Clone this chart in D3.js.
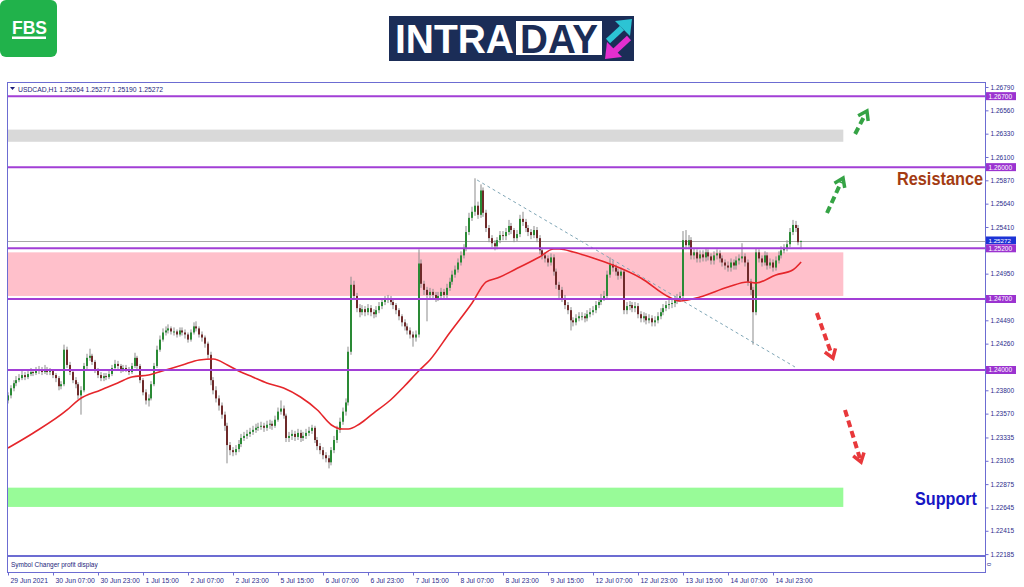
<!DOCTYPE html>
<html><head><meta charset="utf-8">
<script src="https://cdn.jsdelivr.net/npm/d3@7"></script>
<style>
html,body{margin:0;padding:0;background:#fff;}
svg{display:block;}
text{font-family:"Liberation Sans","DejaVu Sans",sans-serif;}
</style></head><body>
<svg id="c" width="1024" height="587"></svg>
<script>
// ---------------- DATA ----------------
const symbol = "USDCAD,H1";
const lastOHLC = [1.25264, 1.25277, 1.25190, 1.25272];
const firstOpen = 1.2370;
const closes = [
1.2375,1.2382,1.2387,1.2390,1.2392,1.2395,1.2393,1.2396,1.2398,1.2397,
1.2399,1.2400,1.2398,1.2401,1.2398,1.2399,1.2395,1.2392,1.2384,1.2386,
1.2420,1.2405,1.2398,1.2390,1.2386,1.2375,1.2380,1.2404,1.2412,1.2414,
1.2408,1.2400,1.2395,1.2392,1.2394,1.2393,1.2396,1.2402,1.2406,1.2404,
1.2400,1.2402,1.2401,1.2398,1.2404,1.2412,1.2404,1.2390,1.2378,1.2370,
1.2372,1.2386,1.2404,1.2420,1.2430,1.2437,1.2439,1.2441,1.2438,1.2438,
1.2435,1.2439,1.2437,1.2435,1.2430,1.2437,1.2443,1.2441,1.2435,1.2432,
1.2426,1.2415,1.2390,1.2380,1.2372,1.2365,1.2356,1.2345,1.2326,1.2321,
1.2319,1.2322,1.2327,1.2333,1.2335,1.2337,1.2339,1.2341,1.2343,1.2344,
1.2345,1.2343,1.2346,1.2347,1.2345,1.2351,1.2359,1.2362,1.2355,1.2333,
1.2335,1.2337,1.2334,1.2338,1.2333,1.2335,1.2338,1.2340,1.2343,1.2331,
1.2325,1.2321,1.2316,1.2313,1.2309,1.2321,1.2331,1.2341,1.2349,1.2359,
1.2368,1.2418,1.2484,1.2473,1.2461,1.2457,1.2460,1.2457,1.2461,1.2457,
1.2455,1.2459,1.2463,1.2467,1.2469,1.2470,1.2467,1.2464,1.2459,1.2453,
1.2447,1.2443,1.2439,1.2435,1.2432,1.2435,1.2505,1.2485,1.2479,1.2474,
1.2477,1.2474,1.2471,1.2473,1.2477,1.2474,1.2481,1.2487,1.2494,1.2499,
1.2506,1.2513,1.2520,1.2536,1.2550,1.2556,1.2562,1.2553,1.2577,1.2555,
1.2540,1.2530,1.2525,1.2522,1.2528,1.2533,1.2532,1.2536,1.2542,1.2538,
1.2530,1.2534,1.2549,1.2546,1.2540,1.2536,1.2533,1.2538,1.2530,1.2518,
1.2513,1.2510,1.2506,1.2511,1.2497,1.2484,1.2479,1.2471,1.2464,1.2459,
1.2449,1.2447,1.2451,1.2453,1.2453,1.2451,1.2455,1.2457,1.2459,1.2464,
1.2467,1.2471,1.2473,1.2494,1.2504,1.2501,1.2497,1.2493,1.2497,1.2459,
1.2463,1.2464,1.2461,1.2463,1.2455,1.2451,1.2453,1.2449,1.2451,1.2447,
1.2449,1.2453,1.2457,1.2461,1.2464,1.2465,1.2466,1.2469,1.2471,1.2473,
1.2528,1.2523,1.2528,1.2513,1.2516,1.2510,1.2514,1.2511,1.2516,1.2512,
1.2508,1.2513,1.2515,1.2510,1.2506,1.2503,1.2501,1.2506,1.2503,1.2508,
1.2510,1.2512,1.2506,1.2487,1.2479,1.2457,1.2516,1.2510,1.2506,1.2513,
1.2503,1.2506,1.2501,1.2508,1.2513,1.2518,1.2520,1.2524,1.2536,1.2543,
1.2540,1.2526,1.25272];
const highs = [
1.2378,1.2385,1.2390,1.2394,1.2396,1.2399,1.2398,1.2400,1.2402,1.2401,
1.2403,1.2404,1.2403,1.2405,1.2403,1.2402,1.2401,1.2397,1.2394,1.2389,
1.2425,1.2423,1.2408,1.2400,1.2393,1.2388,1.2384,1.2407,1.2416,1.2421,
1.2416,1.2410,1.2402,1.2398,1.2397,1.2397,1.2399,1.2405,1.2410,1.2409,
1.2406,1.2405,1.2405,1.2403,1.2407,1.2417,1.2414,1.2406,1.2392,1.2381,
1.2376,1.2389,1.2407,1.2424,1.2434,1.2441,1.2443,1.2445,1.2443,1.2442,
1.2440,1.2442,1.2442,1.2440,1.2437,1.2440,1.2447,1.2448,1.2443,1.2438,
1.2434,1.2428,1.2418,1.2393,1.2384,1.2375,1.2368,1.2359,1.2348,1.2329,
1.2324,1.2326,1.2331,1.2337,1.2339,1.2341,1.2343,1.2345,1.2347,1.2348,
1.2349,1.2348,1.2350,1.2351,1.2350,1.2355,1.2363,1.2370,1.2365,1.2357,
1.2339,1.2341,1.2340,1.2342,1.2341,1.2339,1.2342,1.2344,1.2346,1.2345,
1.2334,1.2328,1.2324,1.2319,1.2316,1.2324,1.2335,1.2345,1.2353,1.2363,
1.2372,1.2423,1.2492,1.2488,1.2476,1.2465,1.2464,1.2463,1.2465,1.2464,
1.2460,1.2463,1.2467,1.2471,1.2473,1.2474,1.2473,1.2470,1.2466,1.2461,
1.2455,1.2450,1.2446,1.2442,1.2438,1.2439,1.2519,1.2509,1.2488,1.2482,
1.2481,1.2480,1.2477,1.2477,1.2481,1.2480,1.2485,1.2491,1.2498,1.2503,
1.2510,1.2517,1.2524,1.2542,1.2555,1.2561,1.2589,1.2566,1.2583,1.2580,
1.2558,1.2543,1.2533,1.2528,1.2531,1.2537,1.2537,1.2540,1.2548,1.2545,
1.2540,1.2538,1.2553,1.2556,1.2549,1.2543,1.2539,1.2542,1.2541,1.2533,
1.2521,1.2516,1.2513,1.2515,1.2514,1.2500,1.2487,1.2482,1.2474,1.2467,
1.2462,1.2452,1.2455,1.2457,1.2457,1.2456,1.2459,1.2461,1.2463,1.2468,
1.2471,1.2475,1.2478,1.2498,1.2511,1.2508,1.2504,1.2500,1.2501,1.2499,
1.2467,1.2468,1.2467,1.2467,1.2466,1.2458,1.2457,1.2456,1.2455,1.2454,
1.2453,1.2457,1.2461,1.2465,1.2468,1.2469,1.2470,1.2473,1.2475,1.2477,
1.2537,1.2538,1.2533,1.2531,1.2520,1.2519,1.2518,1.2518,1.2520,1.2519,
1.2515,1.2517,1.2519,1.2518,1.2513,1.2509,1.2507,1.2510,1.2509,1.2512,
1.2514,1.2525,1.2515,1.2509,1.2490,1.2482,1.2520,1.2519,1.2513,1.2517,
1.2516,1.2510,1.2509,1.2512,1.2517,1.2522,1.2524,1.2528,1.2540,1.2548,
1.2547,1.2543,1.25277];
const lows = [
1.2367,1.2372,1.2379,1.2384,1.2388,1.2390,1.2390,1.2391,1.2394,1.2394,
1.2395,1.2396,1.2395,1.2396,1.2395,1.2395,1.2392,1.2388,1.2380,1.2381,
1.2384,1.2402,1.2395,1.2387,1.2382,1.2371,1.2356,1.2378,1.2401,1.2409,
1.2405,1.2397,1.2392,1.2389,1.2389,1.2390,1.2391,1.2394,1.2400,1.2401,
1.2397,1.2398,1.2398,1.2395,1.2396,1.2402,1.2401,1.2387,1.2375,1.2366,
1.2364,1.2370,1.2384,1.2402,1.2418,1.2428,1.2434,1.2436,1.2435,1.2434,
1.2432,1.2433,1.2434,1.2431,1.2427,1.2428,1.2435,1.2438,1.2432,1.2428,
1.2422,1.2411,1.2385,1.2376,1.2368,1.2360,1.2352,1.2340,1.2308,1.2316,
1.2315,1.2316,1.2319,1.2324,1.2330,1.2332,1.2334,1.2336,1.2338,1.2340,
1.2341,1.2339,1.2340,1.2342,1.2341,1.2343,1.2349,1.2356,1.2352,1.2329,
1.2329,1.2331,1.2330,1.2331,1.2329,1.2330,1.2332,1.2335,1.2337,1.2328,
1.2321,1.2317,1.2312,1.2309,1.2303,1.2306,1.2318,1.2328,1.2338,1.2346,
1.2355,1.2365,1.2415,1.2469,1.2457,1.2452,1.2454,1.2453,1.2454,1.2453,
1.2451,1.2452,1.2456,1.2460,1.2464,1.2466,1.2464,1.2460,1.2455,1.2449,
1.2443,1.2439,1.2435,1.2431,1.2423,1.2428,1.2432,1.2481,1.2474,1.2448,
1.2470,1.2470,1.2467,1.2468,1.2470,1.2470,1.2471,1.2478,1.2484,1.2491,
1.2496,1.2503,1.2510,1.2517,1.2533,1.2547,1.2552,1.2549,1.2550,1.2551,
1.2536,1.2526,1.2521,1.2518,1.2519,1.2525,1.2528,1.2528,1.2533,1.2534,
1.2526,1.2527,1.2531,1.2542,1.2536,1.2532,1.2529,1.2530,1.2526,1.2514,
1.2509,1.2506,1.2502,1.2503,1.2493,1.2480,1.2469,1.2467,1.2460,1.2455,
1.2439,1.2443,1.2444,1.2448,1.2449,1.2447,1.2448,1.2452,1.2454,1.2456,
1.2461,1.2464,1.2468,1.2470,1.2491,1.2497,1.2493,1.2489,1.2490,1.2455,
1.2455,1.2459,1.2457,1.2457,1.2451,1.2447,1.2447,1.2445,1.2446,1.2443,
1.2443,1.2446,1.2450,1.2454,1.2458,1.2460,1.2461,1.2462,1.2465,1.2467,
1.2470,1.2519,1.2519,1.2509,1.2509,1.2506,1.2506,1.2507,1.2507,1.2508,
1.2504,1.2504,1.2509,1.2506,1.2502,1.2499,1.2497,1.2497,1.2499,1.2499,
1.2504,1.2506,1.2502,1.2483,1.2474,1.2425,1.2454,1.2506,1.2502,1.2503,
1.2499,1.2500,1.2497,1.2498,1.2505,1.2510,1.2515,1.2517,1.2521,1.2533,
1.2536,1.2523,1.2519];

// moving average (read at sample bars)
const maIndex  = [0,9,21,25,33,39,44,50,56,62,68,73,78,82,87,92,98,104,110,115,119,121,125,130,136,141,146,150,157,165,170,174,182,189,194,196,201,208,215,225,235,239,246,256,263,266,273,279,282];
const maValues = [1.23231,1.23379,1.23606,1.23704,1.23803,1.23872,1.23931,1.23951,1.24000,1.24049,1.24099,1.24108,1.24049,1.23990,1.23931,1.23872,1.23823,1.23734,1.23606,1.23458,1.23418,1.23418,1.23468,1.23576,1.23704,1.23842,1.23990,1.24099,1.24365,1.24661,1.24868,1.24907,1.25015,1.25114,1.25193,1.25193,1.25163,1.25104,1.25035,1.24907,1.24720,1.24680,1.24720,1.24818,1.24868,1.24858,1.24937,1.24986,1.25065];

const timeTickIndex = [0,16,32,48,64,80,96,112,128,144,160,176,192,208,224,240,256,272];
const timeLabels = ["29 Jun 2021","30 Jun 07:00","30 Jun 23:00","1 Jul 15:00","2 Jul 07:00","2 Jul 23:00","5 Jul 15:00","6 Jul 07:00","6 Jul 23:00","7 Jul 15:00","8 Jul 07:00","8 Jul 23:00","9 Jul 15:00","12 Jul 07:00","12 Jul 23:00","13 Jul 15:00","14 Jul 07:00","14 Jul 23:00"];
const priceTicks = [1.26790,1.26560,1.26330,1.26100,1.25870,1.25640,1.25410,1.25180,1.24950,1.24720,1.24490,1.24260,1.24030,1.23800,1.23570,1.23335,1.23105,1.22875,1.22645,1.22415,1.22185];
const levels = [1.26700,1.26000,1.25200,1.24700,1.24000];
const currentPrice = 1.25272;

// rectangles [topPrice, bottomPrice], running from first bar to bar zoneEnd
const zoneNames  = ["target","range","support"];
const zoneTop    = [1.2637,1.2516,1.2284];
const zoneBottom = [1.2625,1.2473,1.2265];
const zoneEnd = 297;

// trend line [bar, price]
const trendFrom = [166.8, 1.25873];
const trendTo   = [279.8, 1.24030];

// scenario arrows [bar0, price0, bar1, price1]
const arrowsUp   = [[291.2,1.25548,296.9,1.25893],[301.2,1.26327,305.4,1.26553]];
const arrowsDown = [[287.6,1.24562,293.3,1.24118],[297.6,1.23606,303.3,1.23093]];

// ---------------- DRAW ----------------
const svg = d3.select("#c");
const L = 7.5, R = 985.5, T = 82.5, B = 556, SUBB = 572.5;
const x = d3.scaleLinear().domain([0,16]).range([8,53]);
const y = d3.scaleLinear().domain([1.221564,1.268394]).range([557,82]);

const opens = closes.map((c,i)=> i===0 ? firstOpen : closes[i-1]);
opens[opens.length-1] = lastOHLC[0];

// zones
const zg = svg.append("g");
const zoneFill = ["#d9d9d9","#ffc0cb","#98fb98"];
zoneNames.forEach((n,k)=>{
  zg.append("rect").attr("x",x(0)).attr("y",y(zoneTop[k]))
    .attr("width",x(zoneEnd)-x(0)).attr("height",y(zoneBottom[k])-y(zoneTop[k]))
    .attr("fill",zoneFill[k]);
});

// current price line
svg.append("line").attr("x1",L).attr("x2",R).attr("y1",Math.round(y(currentPrice))+0.5).attr("y2",Math.round(y(currentPrice))+0.5)
  .attr("stroke","#a8a8a8").attr("stroke-width",1);

// candles
const cg = svg.append("g");
closes.forEach((c,i)=>{
  const cx = Math.round(x(i));
  const o = opens[i];
  cg.append("rect").attr("x",cx-0.5).attr("width",1)
    .attr("y",y(highs[i])).attr("height",Math.max(1,y(lows[i])-y(highs[i])))
    .attr("fill","#8c8c8c");
  const top = y(Math.max(o,c)), bot = y(Math.min(o,c));
  cg.append("rect").attr("x",cx-1).attr("width",2)
    .attr("y",top).attr("height",Math.max(1,bot-top))
    .attr("fill", c>=o ? "#2a8a35" : "#6e2a2a");
});

// moving average
svg.append("path").datum(maIndex.map((d,k)=>[d,maValues[k]]))
  .attr("d",d3.line().x(d=>x(d[0])).y(d=>y(d[1])).curve(d3.curveMonotoneX))
  .attr("fill","none").attr("stroke","#e5262b").attr("stroke-width",1.6);

// trend line
svg.append("line").attr("x1",x(trendFrom[0])).attr("y1",y(trendFrom[1]))
  .attr("x2",x(trendTo[0])).attr("y2",y(trendTo[1]))
  .attr("stroke","#7fa6b6").attr("stroke-width",1).attr("stroke-dasharray","3,3");

// levels
levels.forEach(l=>{
  svg.append("line").attr("x1",L).attr("x2",R).attr("y1",y(l)).attr("y2",y(l))
    .attr("stroke","#a23fd6").attr("stroke-width",2);
});

// arrows
function arrow(a,color){
  const x0=x(a[0]),y0=y(a[1]),x1=x(a[2]),y1=y(a[3]);
  const ang=Math.atan2(y1-y0,x1-x0);
  const g=svg.append("g");
  const back=4;
  g.append("line").attr("x1",x0).attr("y1",y0)
    .attr("x2",x1-back*Math.cos(ang)).attr("y2",y1-back*Math.sin(ang))
    .attr("stroke",color).attr("stroke-width",4).attr("stroke-dasharray","7,4");
  const hl=10, spread=0.6;
  const p1=[x1-hl*Math.cos(ang-spread), y1-hl*Math.sin(ang-spread)];
  const p2=[x1-hl*Math.cos(ang+spread), y1-hl*Math.sin(ang+spread)];
  g.append("path").attr("d",`M${p1[0]},${p1[1]} L${x1},${y1} L${p2[0]},${p2[1]}`)
    .attr("fill","none").attr("stroke",color).attr("stroke-width",3.5).attr("stroke-linejoin","miter");
}
arrowsUp.forEach(a=>arrow(a,"#35a345"));
arrowsDown.forEach(a=>arrow(a,"#e8383b"));

// annotations
svg.append("text").attr("x",897).attr("y",184.5).text("Resistance")
  .attr("font-family","Roboto, 'Liberation Sans', sans-serif").attr("font-weight","bold").attr("font-size",17.5)
  .attr("fill","#a33b12").attr("textLength",86).attr("lengthAdjust","spacingAndGlyphs");
svg.append("text").attr("x",915).attr("y",505).text("Support")
  .attr("font-family","Roboto, 'Liberation Sans', sans-serif").attr("font-weight","bold").attr("font-size",17.5)
  .attr("fill","#1616c4").attr("textLength",62).attr("lengthAdjust","spacingAndGlyphs");

// frame
const frameColor = "#6c6cd2";
svg.append("rect").attr("x",L).attr("y",T).attr("width",R-L).attr("height",SUBB-T)
  .attr("fill","none").attr("stroke",frameColor).attr("stroke-width",1);
svg.append("line").attr("x1",L).attr("x2",R).attr("y1",B).attr("y2",B).attr("stroke",frameColor).attr("stroke-width",2);

// header
svg.append("path").attr("d","M10,87 L15,87 L12.5,90 Z").attr("fill","#1e1e7a");
svg.append("text").attr("x",18).attr("y",91.5).attr("font-size",6.8).attr("fill","#1e1e7a")
  .text(symbol+"  "+lastOHLC.map(d3.format(".5f")).join(" "));
svg.append("text").attr("x",11).attr("y",566.5).attr("font-size",6.5).attr("fill","#1e1e7a").text("Symbol Changer profit display");

// price axis (labels hidden where a level tag covers them, as on the terminal)
const tagged = levels.concat([currentPrice]);
const ya = svg.append("g").attr("transform",`translate(${R},0)`)
  .call(d3.axisRight(y).tickValues(priceTicks).tickFormat(d3.format(".5f")).tickSize(3).tickPadding(2));
ya.select(".domain").remove();
ya.selectAll("line").attr("stroke",frameColor);
ya.selectAll("text").attr("font-size",6.5).attr("fill","#2b2b8c").attr("font-family","'Liberation Sans',sans-serif");
ya.selectAll(".tick").filter(d=>tagged.some(l=>Math.abs(y(l)-y(d))<7)).select("text").remove();

// time axis
const xa = svg.append("g").attr("transform",`translate(0,${SUBB})`)
  .call(d3.axisBottom(x).tickValues(timeTickIndex).tickFormat((d,i)=>timeLabels[i]).tickSize(3));
xa.select(".domain").remove();
xa.selectAll("line").attr("stroke",frameColor);
xa.selectAll("text").attr("font-size",6.8).attr("fill","#2b2b8c").attr("text-anchor","start")
  .attr("x",2).attr("y",10).attr("dy",0).attr("font-family","'Liberation Sans',sans-serif");

// level labels on axis
levels.forEach(l=>{
  svg.append("rect").attr("x",986).attr("y",y(l)-4).attr("width",30).attr("height",8).attr("fill","#9b33d0");
  svg.append("text").attr("x",988.5).attr("y",y(l)+2.4).attr("font-size",6.5).attr("fill","#fff").text(d3.format(".5f")(l));
});
svg.append("rect").attr("x",986).attr("y",y(currentPrice)-4.5).attr("width",30).attr("height",7.5).attr("fill","#1c33d6");
svg.append("text").attr("x",988.5).attr("y",y(currentPrice)+1.6).attr("font-size",6.2).attr("fill","#fff").text(d3.format(".5f")(currentPrice));
svg.append("text").attr("transform","translate(991,566) rotate(-90)").attr("font-size",6).attr("fill","#2b2b8c").text("0");

// FBS logo
svg.append("rect").attr("x",0).attr("y",0).attr("width",57).attr("height",57).attr("rx",6).attr("fill","#21b24b");
svg.append("text").attr("x",12).attr("y",33.5).text("FBS").attr("fill","#fff")
  .attr("font-family","Roboto, 'Liberation Sans', sans-serif").attr("font-weight","bold").attr("font-size",18.5)
  .attr("textLength",35).attr("lengthAdjust","spacingAndGlyphs");
svg.append("rect").attr("x",12).attr("y",36.5).attr("width",34).attr("height",2.5).attr("fill","#fff");

// INTRADAY logo
const navy = "#1b2d57";
svg.append("rect").attr("x",389).attr("y",16).attr("width",245).attr("height",45).attr("fill",navy);
svg.append("rect").attr("x",516).attr("y",21).attr("width",86).attr("height",34).attr("fill","#fff");
svg.append("text").attr("x",395).attr("y",53).text("INTRA").attr("fill","#fff")
  .attr("font-family","Roboto, 'Liberation Sans', sans-serif").attr("font-weight","bold").attr("font-size",41)
  .attr("textLength",119).attr("lengthAdjust","spacingAndGlyphs");
svg.append("text").attr("x",520).attr("y",53).text("DAY").attr("fill",navy)
  .attr("font-family","Roboto, 'Liberation Sans', sans-serif").attr("font-weight","bold").attr("font-size",41)
  .attr("textLength",78).attr("lengthAdjust","spacingAndGlyphs");
svg.append("line").attr("x1",608).attr("y1",41).attr("x2",622).attr("y2",28).attr("stroke","#2cc4d4").attr("stroke-width",6);
svg.append("path").attr("d","M632,19 L615,21 L630,36 Z").attr("fill","#2cc4d4");
svg.append("line").attr("x1",629).attr("y1",38).attr("x2",615).attr("y2",51).attr("stroke","#e42fcf").attr("stroke-width",6);
svg.append("path").attr("d","M605,59 L607,42 L622,57 Z").attr("fill","#e42fcf");
</script>
</body></html>
